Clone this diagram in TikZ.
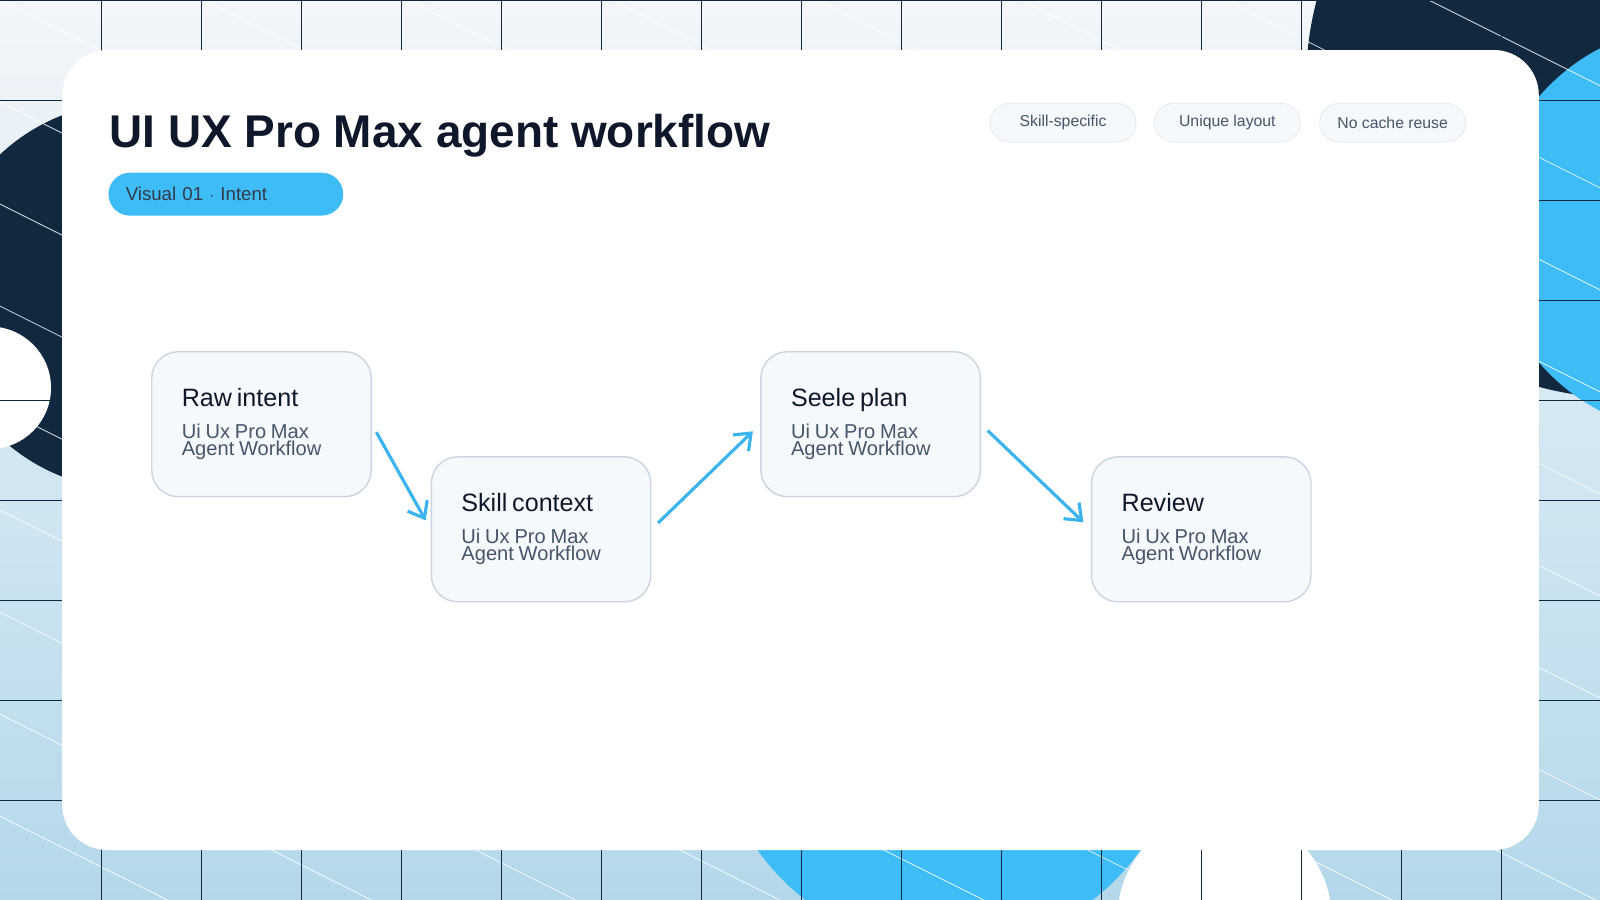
\documentclass[tikz,border=0pt]{standalone}
\usepackage{fontspec}
\setmainfont{Liberation Sans}
\usetikzlibrary{arrows.meta,positioning,calc}
\definecolor{Navy}{HTML}{12283F}
\definecolor{Sky}{HTML}{3DBCF5}
\definecolor{ArrowBlue}{HTML}{3BB4EE}
\definecolor{BoxFill}{HTML}{F6F9FB}
\definecolor{BoxLine}{HTML}{CBD5E1}
\definecolor{Ink}{HTML}{0F172A}
\definecolor{SubInk}{HTML}{475569}
\definecolor{TopBg}{HTML}{F3F6F9}
\definecolor{BotBg}{HTML}{B4D8EA}

\begin{document}
\begin{tikzpicture} [
			x=0.025cm, y=-0.025cm,
			every node/.style={align=left,rectangle},
			stage/.style={draw=BoxLine,line width=1pt,fill=BoxFill,rounded corners=6.5mm,minimum width=5.375cm,minimum height=3.55cm,text width=3.9cm,inner sep=0pt,anchor=north west},
			chip/.style={draw=BoxLine!60,fill=BoxFill,rounded corners=4.75mm,minimum width=3.575cm,minimum height=0.95cm,anchor=north west,text=SubInk,align=center,font=\fontsize{11}{13}\selectfont},
			flow/.style={-{Straight Barb[length=3.5mm,width=5.5mm]},draw=ArrowBlue,line width=2.2pt,shorten <=0.225cm,shorten >=0.25cm}
		]
		% background
		\useasboundingbox (0,0) rectangle (1568,882);
		\clip (0,0) rectangle (1568,882);
		\shade[top color=TopBg,bottom color=BotBg] (0,0) rectangle (1568,882);
		\fill[Navy] (130,290) circle (190);
		\fill[white] (-10,380) circle (60);
		\fill[Navy] (1590,80) circle (310);
		\fill[Sky] (1660,225) circle (200);
		\fill[Sky] (930,700) circle (230);
		\fill[white] (1200,900) circle (105);
		\foreach \c in {-800,-700,...,900}
			\draw[white,opacity=.8,line width=.6pt] (0,\c) -- (1568,\c+784);
		\foreach \x in {99,197,...,1568}
			\draw[Navy,line width=.7pt] (\x,0) -- (\x,882);
		\foreach \y in {98,196,...,882}
			\draw[Navy,line width=.7pt] (0,\y) -- (1568,\y);
		\draw[Navy,line width=1pt] (0,0) -- (1568,0);

		% card
		\fill[white,rounded corners=11mm] (61,49) rectangle (1508,833);

		% heading
		\node[anchor=base west,inner sep=0pt,text=Ink,font=\bfseries\fontsize{32}{36}\selectfont] (title) at (107,145) {UI UX Pro Max agent workflow};
		\node[fill=Sky,rounded corners=5.25mm,minimum width=5.75cm,minimum height=1.05cm,anchor=north west,text=Ink!85,font=\fontsize{13}{15}\selectfont,text width=4.9cm,inner xsep=0.42cm] (badge) at (106,169) {Visual 01 $\cdot$ Intent};
		\node[chip] (skillspec) at (970,101) {Skill-specific};
		\node[chip] (layout) at (1131,101) {Unique layout};
		\node[chip] (nocache) at (1293,101) {No cache reuse};

		% stages
		\node[stage] (raw) at (148,344) {
			{\color{Ink}\fontsize{17.5}{20}\selectfont Raw intent}\\[6pt]
			{\color{SubInk}\fontsize{14}{16}\selectfont Ui Ux Pro Max\\Agent Workflow}
		};
		\node[stage] (skill) at (422,447) {
			{\color{Ink}\fontsize{17.5}{20}\selectfont Skill context}\\[6pt]
			{\color{SubInk}\fontsize{14}{16}\selectfont Ui Ux Pro Max\\Agent Workflow}
		};
		\node[stage] (seele) at (745,344) {
			{\color{Ink}\fontsize{17.5}{20}\selectfont Seele plan}\\[6pt]
			{\color{SubInk}\fontsize{14}{16}\selectfont Ui Ux Pro Max\\Agent Workflow}
		};
		\node[stage] (review) at (1069,447) {
			{\color{Ink}\fontsize{17.5}{20}\selectfont Review}\\[6pt]
			{\color{SubInk}\fontsize{14}{16}\selectfont Ui Ux Pro Max\\Agent Workflow}
		};

		\path[flow] (raw.east) -- (skill.west);
		\path[flow] (skill.east) -- (seele.west);
		\path[flow] (seele.east) -- (review.west);
	\end{tikzpicture}
\end{document}
